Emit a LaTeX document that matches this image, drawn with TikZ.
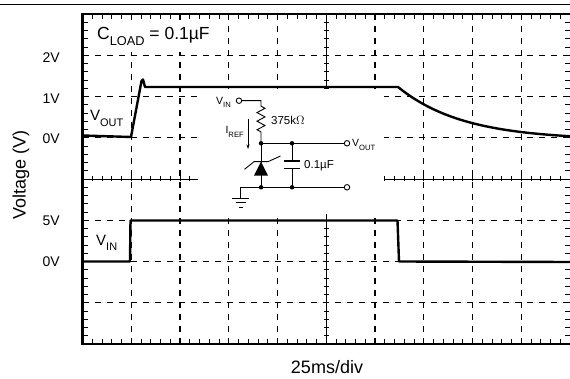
\documentclass[tikz,border=0pt]{standalone}
\usepackage{graphicx}
\usepackage{fontspec}
\setmainfont{Liberation Sans}
\usetikzlibrary{arrows.meta}

\tikzset{
  gridline/.style={line width=1.1pt, dash pattern=on 6pt off 6pt},
  axisline/.style={line width=.9pt},
  trace/.style={line width=2.4pt, line join=round},
  wire/.style={line width=.9pt},
  term/.style={circle, draw, line width=.9pt, fill=white, inner sep=0pt, minimum size=5.5pt},
  junction/.style={circle, fill, inner sep=0pt, minimum size=4.5pt},
  ticklabel/.style={anchor=east, inner sep=0pt, font=\fontsize{14}{16}\selectfont},
  axislabel/.style={inner sep=0pt, font=\fontsize{18}{20}\selectfont},
  tracelabel/.style={anchor=west, inner sep=0pt, font=\fontsize{15}{17}\selectfont},
  partlabel/.style={inner sep=0pt, font=\fontsize{11.5}{12}\selectfont},
  pinlabel/.style={inner sep=0pt, font=\fontsize{10.5}{11}\selectfont},
}

\begin{document}
\begin{tikzpicture}[x=1pt, y=-1pt]
  \useasboundingbox (0,0) rectangle (570,379);
  \newcommand\lowtext[1]{\raisebox{-.35em}{\scalebox{.73}{#1}}}

  % top rule
  \draw[line width=1pt] (0,5) -- (570,5);

  % grid
  \foreach \i in {1,2,3,4,6,7,8,9}
    \draw[gridline] ({82.5+48.75*\i},14) -- ++(0,330);
  \foreach \j in {1,2,3,5,6,7}
    \draw[gridline] (82.5,{14+41.25*\j}) -- ++(487.5,0);
  \fill[white] (88,20) rectangle (214,52);

  % center axes and minor ticks
  \draw[axisline] (82.5,179) -- (570,179);
  \draw[axisline] (326.25,14) -- (326.25,344);
  \foreach \k in {1,...,49}{
    \draw[axisline] ({82.5+9.75*\k},176.5) -- ++(0,5);
    \draw[axisline] ({82.5+9.75*\k},14) -- ++(0,5);
    \draw[axisline] ({82.5+9.75*\k},344) -- ++(0,-5);
  }
  \foreach \k in {1,...,39}{
    \draw[axisline] (323.75,{14+8.25*\k}) -- ++(5,0);
    \draw[axisline] (82.5,{14+8.25*\k}) -- ++(5,0);
    \draw[axisline] (570,{14+8.25*\k}) -- ++(-5,0);
  }

  % frame
  \draw[line width=2.6pt] (570,14) -- (82.5,14) -- (82.5,344) -- (570,344);

  % circuit
  \fill[white] (198,89) rectangle (384,214);
  \node[term] (vin) at (239,100.7) {};
  \node[pinlabel, anchor=east] (vinlabel) at (231,102.5) {V\lowtext{IN}};
  \node[term] (vout) at (347,143.3) {};
  \node[pinlabel, anchor=west] (voutlabel) at (352,145) {V\lowtext{OUT}};
  \node[term] (com) at (347,187.3) {};
  \coordinate (rtop) at (261,100.7);
  \coordinate (ntop) at (261,143.3);
  \coordinate (nbot) at (261,187.3);
  \coordinate (ctop) at (292,143.3);
  \coordinate (cbot) at (292,187.3);
  \coordinate (cp1) at (292,161);
  \coordinate (cp2) at (292,168.3);
  \coordinate (gcorner) at (240.5,187.3);
  \coordinate (gnd) at (240.5,198.3);
  \coordinate (iref1) at (248,119);
  \coordinate (iref2) at (248,149);

  \draw[wire] (vin) -- (rtop) -- ++(0,5.5) -- ++(4,2.1) -- ++(-8,4.3) -- ++(8,4.3)
    -- ++(-8,4.3) -- ++(8,4.3) -- ++(-8,4.3) -- ++(4,2.1) -- (ntop);
  \draw[wire] (ntop) -- (vout);
  \draw[wire] (ntop) -- (nbot);
  \draw[wire] (gcorner) -- (com);
  \draw[wire] (gcorner) -- (gnd);
  \draw[wire] ([xshift=-8.5]gnd) -- ([xshift=8.5]gnd)
    ([xshift=-5]gnd) ++(0,4.4) -- ++(10,0)
    ([xshift=-2]gnd) ++(0,8.8) -- ++(4,0);
  % zener
  \fill (261,161.7) -- (254,175.7) -- (268,175.7) -- cycle;
  \draw[wire] (244.5,169.3) -- (254,161.7) -- (268,161.7) -- (280.5,156);
  % capacitor
  \draw[wire] (ctop) -- (cp1) (cp2) -- (cbot);
  \draw[line width=1.2pt] ([xshift=-8]cp1) -- ([xshift=8]cp1) ([xshift=-8]cp2) -- ([xshift=8]cp2);
  \foreach \p in {ntop,nbot,ctop,cbot}
    \node[junction] at (\p) {};
  \draw[wire, -{Stealth[length=4.5pt, width=3pt]}] (iref1) -- (iref2);
  \node[pinlabel, anchor=east] (ireflabel) at (244,132) {I\lowtext{REF}};
  \node[partlabel, anchor=west] (rlabel) at (271,120.5) {375k$\Omega$};
  \node[partlabel, anchor=west] (clabel) at (304,165.5) {0.1µF};

  % traces
  \draw[trace] (82.5,135.5) -- (131,137) -- (141.5,81) -- (143,79.5) -- (145,87) -- (398,87)
    -- plot[domain=398:570, samples=40] (\x,{140-53*exp(-(\x-398)/65)});
  \draw[trace] (82.5,261.5) -- (130,261.5) -- (130.5,220.5) -- (397.5,220.5) -- (399,261.5) -- (570,262);

  % labels
  \foreach \t/\y [count=\n] in {2V/58, 1V/99, 0V/139, 5V/221, 0V/262}
    \node[ticklabel] (vt\n) at (60,\y) {\t};
  \node[axislabel, rotate=90] (ylabel) at (21,175) {Voltage (V)};
  \node[axislabel] (xlabel) at (327,367) {25ms/div};
  \node[tracelabel, font=\fontsize{17.5}{19}\selectfont] (cload) at (97,36.5) {C\lowtext{LOAD} = 0.1µF};
  \node[tracelabel] (voutname) at (90,118.5) {V\lowtext{OUT}};
  \node[tracelabel] (vinname) at (96,242.5) {V\lowtext{IN}};
\end{tikzpicture}
\end{document}
